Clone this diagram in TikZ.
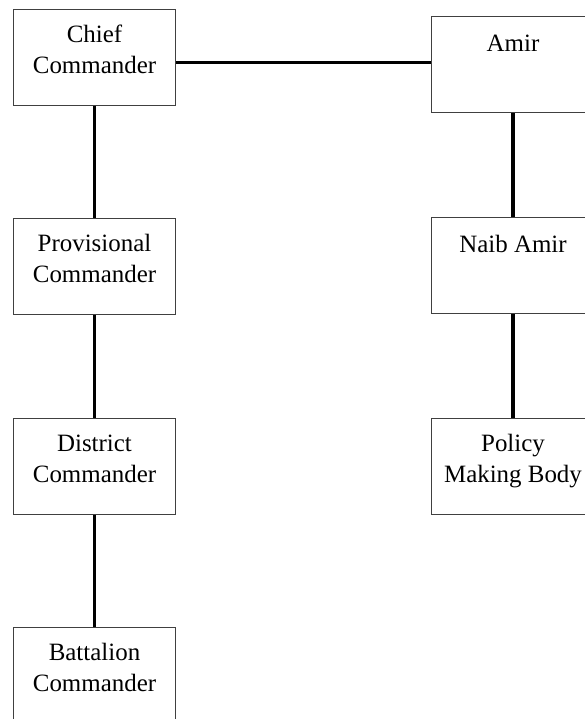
\documentclass[tikz,border=0pt]{standalone}
\usepackage{fontspec}
\setmainfont{Liberation Serif}
\tikzset{
  unit/.style={draw=black!75, line width=0.8pt, anchor=north,
    minimum width=122pt, inner sep=0pt, align=center,
    font=\fontsize{18.7}{23}\selectfont, text height=48pt, text depth=24pt},
  oneline/.style={text height=26pt, text depth=46pt},
  link/.style={line width=2.3pt}
}

\begin{document}
\begin{tikzpicture}[x=0.75pt,y=-0.75pt]
        \useasboundingbox (0,0) rectangle (585,719);
        \clip (0,0) rectangle (585,719);
        % left column
        \node[unit] (chief) at (94.5,9) {Chief\\Commander};
        \node[unit] (prov) at (94.5,218) {Provisional\\Commander};
        \node[unit] (dist) at (94.5,418) {District\\Commander};
        \node[unit] (batt) at (94.5,627) {Battalion\\Commander};
        % right column
        \node[unit, oneline] (amir) at (513,16) {Amir};
        \node[unit, oneline] (naib) at (513,217) {Naib Amir};
        \node[unit] (policy) at (513,418) {Policy\\Making Body};
        % links
        \coordinate (hl) at ([yshift=-4pt]chief.east);
        \draw[link] (hl) -- (hl -| amir.west);
        \draw[link] (chief) -- (prov);
        \draw[link] (prov) -- (dist);
        \draw[link] (dist) -- (batt);
        \draw[link] (amir) -- (naib);
        \draw[link] (naib) -- (policy);
    \end{tikzpicture}
\end{document}
